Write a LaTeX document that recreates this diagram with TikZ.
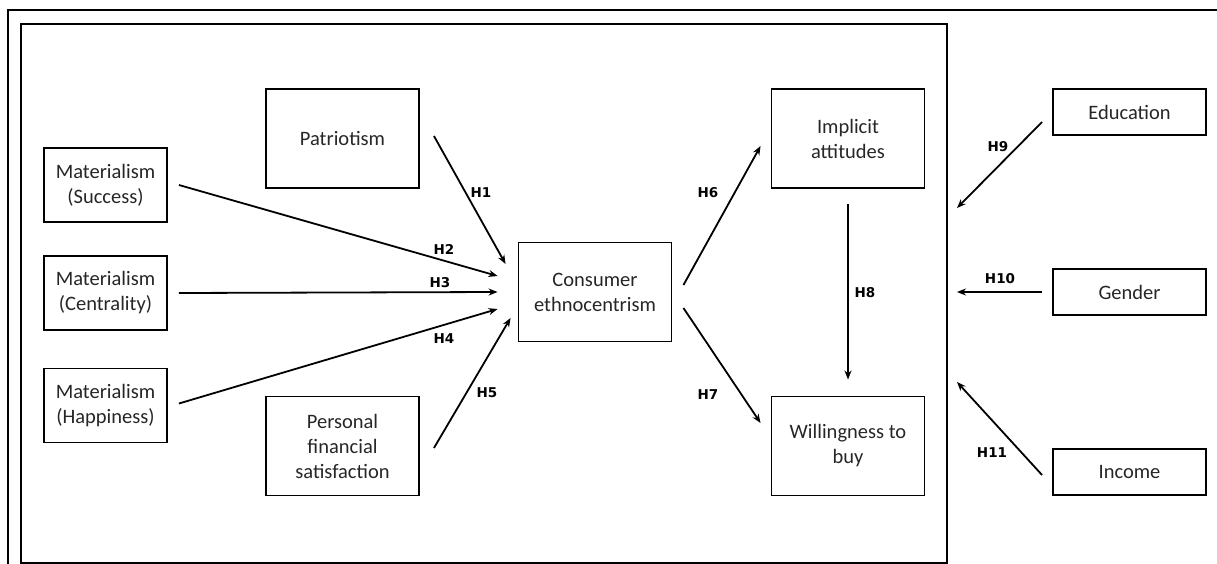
\documentclass[tikz,border=0pt]{standalone}
\usepackage{fontspec}
\setmainfont{Carlito}
\newfontfamily\hlabfont{DejaVu Sans}
\usetikzlibrary{arrows.meta}

\tikzset{
    var/.style={draw, line width=1.9pt, align=center, inner sep=2pt,
        font=\fontsize{20.5}{25}\selectfont, text=black!85},
    bigvar/.style={var, minimum width=153pt, minimum height=99pt},
    matvar/.style={var, minimum width=123pt, minimum height=74pt},
    ctrl/.style={var, minimum width=153pt, minimum height=46pt},
    hyp/.style={line width=1.8pt, -{Stealth[length=9pt, width=7pt]}},
    hlab/.style={font=\hlabfont\bfseries\fontsize{13.5}{15}\selectfont, inner sep=1pt}
}

\begin{document}
\begin{tikzpicture}[x=1pt, y=-1pt]
    \useasboundingbox (0,0) rectangle (1217,564);

    % frames
    \draw[line width=2.6pt] (8,564) -- (8,10) -- (1217,10);
    \draw[line width=2.2pt] (21,24) rectangle (947,563);

    % constructs
    \node[bigvar] (pat)  at (342.5,138.5) {Patriotism};
    \node[bigvar] (pfs)  at (342.5,446)   {Personal\\financial\\satisfaction};
    \node[bigvar] (cons) at (595,292)     {Consumer\\ethnocentrism};
    \node[bigvar] (impl) at (848,138.5)   {Implicit\\attitudes};
    \node[bigvar] (will) at (848,446)     {Willingness to\\buy};

    \node[matvar] (msuc) at (105.5,185)   {Materialism\\(Success)};
    \node[matvar] (mcen) at (105.5,293)   {Materialism\\(Centrality)};
    \node[matvar] (mhap) at (105.5,405.5) {Materialism\\(Happiness)};

    \node[ctrl] (edu) at (1129.5,112) {Education};
    \node[ctrl] (gen) at (1129.5,292) {Gender};
    \node[ctrl] (inc) at (1129.5,472) {Income};

    % free ends on the frame
    \coordinate (e9)  at (957,208);
    \coordinate (e10) at (957,292);
    \coordinate (e11) at (957,382);

    % hypotheses
    \draw[hyp] ([shift={(14,-2.5)}]pat.east) -- ([shift={(-12,-28)}]cons.west);
    \draw[hyp] ([shift={(11,0)}]msuc.east)   -- ([shift={(-20,-16)}]cons.west);
    \draw[hyp] ([shift={(11,0)}]mcen.east)   -- ([shift={(-20,0)}]cons.west);
    \draw[hyp] ([shift={(11,-2)}]mhap.east)  -- ([shift={(-20,17)}]cons.west);
    \draw[hyp] ([shift={(14,2)}]pfs.east)    -- ([shift={(-7,26)}]cons.west);
    \draw[hyp] ([shift={(11,-7)}]cons.east)  -- ([shift={(-10,7.5)}]impl.west);
    \draw[hyp] ([shift={(11,16)}]cons.east)  -- ([shift={(-10,-23)}]will.west);
    \draw[hyp] ([shift={(0,15)}]impl.south)  -- ([shift={(0,-16)}]will.north);
    \draw[hyp] ([shift={(-10,10)}]edu.west)  -- (e9);
    \draw[hyp] ([shift={(-10,0)}]gen.west)   -- (e10);
    \draw[hyp] ([shift={(-10,3)}]inc.west)   -- (e11);

    % labels
    \node[hlab] (l1)  at (481,193) {H1};
    \node[hlab] (l2)  at (444,249) {H2};
    \node[hlab] (l3)  at (440,283) {H3};
    \node[hlab] (l4)  at (444,339) {H4};
    \node[hlab] (l5)  at (487,393) {H5};
    \node[hlab] (l6)  at (708,193) {H6};
    \node[hlab] (l7)  at (708,395) {H7};
    \node[hlab] (l8)  at (865,293) {H8};
    \node[hlab] (l9)  at (998,147) {H9};
    \node[hlab] (l10) at (1000,279) {H10};
    \node[hlab] (l11) at (992,453) {H11};
\end{tikzpicture}
\end{document}
